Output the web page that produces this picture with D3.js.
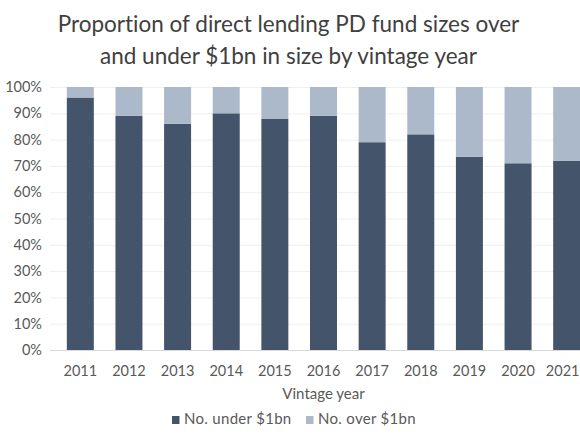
<!DOCTYPE html>
<html><head><meta charset="utf-8">
<script src="https://cdn.jsdelivr.net/npm/d3@7"></script>
<style>body{margin:0;background:#fff;} svg{display:block;} text{font-variant-ligatures:none;font-feature-settings:"liga" 0;}</style>
</head><body>
<svg id="c" width="580" height="435"></svg>
<script>
const years = ["2011","2012","2013","2014","2015","2016","2017","2018","2019","2020","2021"];
const under = [96, 89, 86, 90, 88, 89, 79, 82, 73.5, 71, 72];
const over = under.map(v => 100 - v);
const yTicks = [0,10,20,30,40,50,60,70,80,90,100];
const seriesNames = ["No. under $1bn", "No. over $1bn"];
const colors = ["#44546A", "#ACB9CA"];

const svg = d3.select("#c");
const font = "Lato, 'Open Sans', sans-serif";
const x = d3.scaleBand().domain(years).range([56, 591]).paddingInner(0.445).paddingOuter(0.2225);
const y = d3.scaleLinear().domain([0, 100]).range([350, 87]);

// gridlines
svg.append("g").selectAll("line").data(yTicks.filter(d => d > 0)).join("line")
  .attr("x1", 50).attr("x2", 580).attr("y1", d => y(d) + 0.5).attr("y2", d => y(d) + 0.5)
  .attr("stroke", "#efefef").attr("stroke-width", 1);

const rows = years.map((yr, i) => ({year: yr, under: under[i], over: over[i]}));
const stack = d3.stack().keys(["under", "over"])(rows);
svg.append("g").selectAll("g").data(stack).join("g")
  .attr("fill", (d, i) => colors[i])
  .selectAll("rect").data(d => d).join("rect")
  .attr("x", d => x(d.data.year)).attr("width", x.bandwidth())
  .attr("y", d => y(d[1])).attr("height", d => y(d[0]) - y(d[1]));

// x axis line
svg.append("line").attr("x1", 50).attr("x2", 580).attr("y1", 350.5).attr("y2", 350.5)
  .attr("stroke", "#d9d9d9").attr("stroke-width", 1);

// y tick labels
const yAxis = d3.axisLeft(y).tickValues(yTicks).tickFormat(d => d + "%").tickSize(0).tickPadding(0);
const ya = svg.append("g").attr("transform", "translate(42,0)").call(yAxis);
ya.select(".domain").remove();
ya.selectAll("text").attr("font-family", font).attr("font-size", 14.5).attr("fill", "#595959");

// x tick labels
const xAxis = d3.axisBottom(x).tickSize(0).tickPadding(0);
const xa = svg.append("g").attr("transform", "translate(0,366)").call(xAxis);
xa.select(".domain").remove();
xa.selectAll("text").attr("font-family", font).attr("font-size", 14.5).attr("fill", "#595959");
// keep the last label inside the picture
xa.selectAll(".tick").each(function(d) {
  const t = d3.select(this).select("text");
  const w = t.node().getComputedTextLength();
  const cx = x(d) + x.bandwidth() / 2;
  const over = cx + w / 2 - 579.5;
  if (over > 0) t.attr("x", -over);
});

// axis title
svg.append("text").attr("x", 323.5).attr("y", 399).attr("text-anchor", "middle")
  .attr("font-family", font).attr("font-size", 15).attr("fill", "#595959").text("Vintage year");

// title
const title = ["Proportion of direct lending PD fund sizes over", "and under $1bn in size by vintage year"];
svg.append("g").selectAll("text").data(title).join("text")
  .attr("x", 288.5).attr("y", (d, i) => 32 + i * 31.5).attr("text-anchor", "middle")
  .attr("font-family", font).attr("font-size", 22.5).attr("fill", "#404040").text(d => d);

// legend
const legX = [172, 306];
const lg = svg.append("g").selectAll("g").data(seriesNames).join("g")
  .attr("transform", (d, i) => `translate(${legX[i]},0)`);
lg.append("rect").attr("x", 0).attr("y", 416).attr("width", 7.5).attr("height", 8)
  .attr("fill", (d, i) => colors[i]);
lg.append("text").attr("x", 12).attr("y", 424).attr("font-family", font).attr("font-size", 15)
  .attr("letter-spacing", 0.3).attr("fill", "#595959").text(d => d);
</script>
</body></html>
